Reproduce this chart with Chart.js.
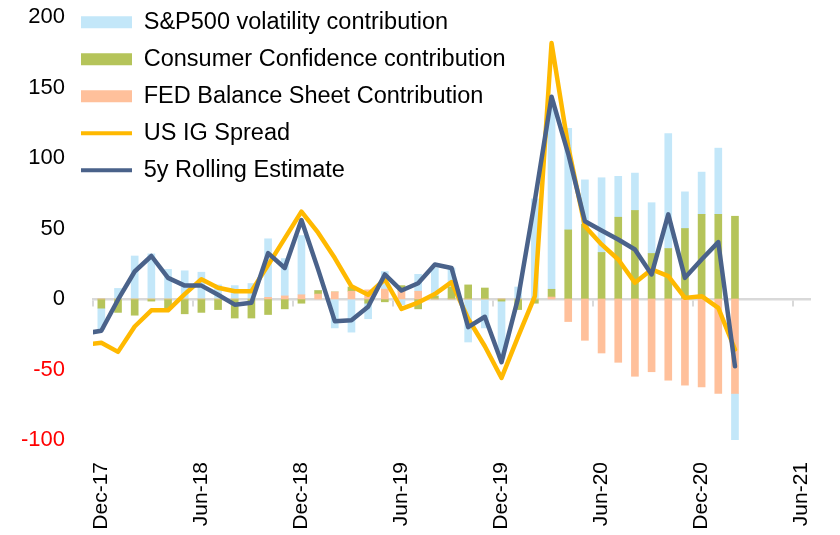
<!DOCTYPE html>
<html>
<head>
<meta charset="utf-8">
<script src="https://cdn.jsdelivr.net/npm/chart.js@4.4.1/dist/chart.umd.min.js"></script>
<style>
    html, body { margin: 0; padding: 0; background: #fff; }
</style>
</head>
<body>
<canvas id="chart" width="840" height="535"></canvas>
<script>
// ── data ─────────────────────────────────────────────────────────────────
// Monthly, Nov-17 .. Jun-21. Only the two lines carry a Nov-17 value (it
// just feeds the segment that enters from the left edge of the plot).

const MONTHS = [
    'Nov-17', 'Dec-17',
    'Jan-18', 'Feb-18', 'Mar-18', 'Apr-18', 'May-18', 'Jun-18',
    'Jul-18', 'Aug-18', 'Sep-18', 'Oct-18', 'Nov-18', 'Dec-18',
    'Jan-19', 'Feb-19', 'Mar-19', 'Apr-19', 'May-19', 'Jun-19',
    'Jul-19', 'Aug-19', 'Sep-19', 'Oct-19', 'Nov-19', 'Dec-19',
    'Jan-20', 'Feb-20', 'Mar-20', 'Apr-20', 'May-20', 'Jun-20',
    'Jul-20', 'Aug-20', 'Sep-20', 'Oct-20', 'Nov-20', 'Dec-20',
    'Jan-21', 'Feb-21', 'Mar-21', 'Apr-21', 'May-21', 'Jun-21'
];

const TICK_LABELS = ['Dec-17', 'Jun-18', 'Dec-18', 'Jun-19', 'Dec-19', 'Jun-20', 'Dec-20', 'Jun-21'];
const Y_TICKS = [-100, -50, 0, 50, 100, 150, 200];

const spVolatility = [null, -15, 7.5, 30.5, 32, 21, 20, 19, 10, 9.5, 11, 41.5, 26.5, 42,
    0, -20.5, -23.5, -11, 12.5, -4, 12, 20, 13.5, -30.5, -20.5, -40.5,
    8.5, 71, 133, 72, 31.5, 53, 29, 26.5, 36, 81.5, 26, 30, 47, -36];

const consumerConf = [null, -6.5, -9.5, -11.5, -1.5, -6.5, -10.5, -9.5, -7.5, -13.5, -13.5, -11, -7, -3,
    2.5, 0, 3, -3, -2, 4, -7, 2, 8.5, 10, 7.8, -1.5,
    -7.5, -3, 5.5, 49, 53, 33, 58, 62.8, 32.3, 35.8, 50, 60, 60, 58.7];

const fedBalance = [null, 0, 0, 0, 0, 0, 0, 0, 0, 0, 0, 1.2, 2.2, 3,
    3.5, 5, 5.5, 6.5, 7, 5.5, 5.5, 0, 0, 0, 0, 0,
    0, 0, 1.4, -16, -29.3, -38.3, -44.9, -54.8, -51.6, -57.6, -61.1, -62.3, -67, -67];

const igSpread = [-32.5, -31, -37.5, -19.5, -8, -8, 3.5, 14, 8, 5.5, 5.5, 24, 43, 62,
    47, 29, 9, 3, 14, -7, -2.5, 3.5, 12, -14, -33.5, -56,
    -26.5, 2, 181.5, 108, 51.6, 38.7, 28, 11.5, 21, 16.2, 0.8, 2, -6.3, -35.8];

const rolling5y = [-24.5, -22.5, -0.5, 19.5, 30.5, 15, 9.5, 9.5, 3, -4, -2.7, 32.5, 22, 56,
    21, -15.7, -15, -5.5, 17.4, 6, 11.2, 24.5, 22, -20, -12.6, -44.8,
    1, 70, 143.5, 103, 55.2, 48.6, 42.2, 35.1, 17.4, 60, 15, 28, 40.3, -47.7];

const FONT = '"Liberation Sans", Arial, sans-serif';

// month index -> {x, y}, dropping the gaps
function toPoints(values) {
    return values
        .map((v, i) => ({ x: i, y: v }))
        .filter(p => p.y !== null);
}

// the legend sits inside the plot, a bit left of it, like the original
const legendPlacer = {
    id: 'legendPlacer',
    afterLayout(chart) {
        const lg = chart.legend;
        lg.left = 67.5;
        lg.right = 640;
        lg.top = -3;
        lg.bottom = 300;
    }
};

// bars stack FED -> Consumer -> S&P outward from zero, legend lists them reversed
const LEGEND_ORDER = [2, 1, 0, 3, 4];

new Chart(document.getElementById('chart'), {
    data: {
        datasets: [
            {
                type: 'bar',
                label: 'FED Balance Sheet Contribution',
                data: toPoints(fedBalance),
                backgroundColor: '#ffc09b',
                stack: 'bars',
                barThickness: 7,
                order: 2
            },
            {
                type: 'bar',
                label: 'Consumer Confidence contribution',
                data: toPoints(consumerConf),
                backgroundColor: '#b5c45a',
                stack: 'bars',
                barThickness: 7,
                order: 2
            },
            {
                type: 'bar',
                label: 'S&P500 volatility contribution',
                data: toPoints(spVolatility),
                backgroundColor: '#c3e7f9',
                stack: 'bars',
                barThickness: 7,
                order: 2
            },
            {
                type: 'line',
                label: 'US IG Spread',
                data: toPoints(igSpread),
                borderColor: '#ffb900',
                borderWidth: 4.5,
                borderJoinStyle: 'round',
                borderCapStyle: 'round',
                pointRadius: 0,
                tension: 0,
                stack: 'ig',
                order: 1,
                clip: { left: 0, top: 20, right: 20, bottom: 20 }
            },
            {
                type: 'line',
                label: '5y Rolling Estimate',
                data: toPoints(rolling5y),
                borderColor: '#4a628a',
                borderWidth: 4.5,
                borderJoinStyle: 'round',
                borderCapStyle: 'round',
                pointRadius: 0,
                tension: 0,
                stack: 'roll',
                order: 0,
                clip: { left: 0, top: 20, right: 20, bottom: 20 }
            }
        ]
    },
    options: {
        responsive: false,
        animation: false,
        layout: { padding: { top: 17, right: 30, left: 0, bottom: 0 } },
        plugins: {
            tooltip: { enabled: false },
            legend: {
                position: 'chartArea',
                align: 'start',
                labels: {
                    usePointStyle: true,
                    pointStyleWidth: 51,
                    boxHeight: 12,
                    padding: 13.5,
                    color: '#000',
                    font: { family: FONT, size: 23.5 },
                    generateLabels: chart => LEGEND_ORDER.map(i => {
                        const ds = chart.data.datasets[i];
                        const isLine = ds.type === 'line';
                        return {
                            text: ds.label,
                            datasetIndex: i,
                            fillStyle: isLine ? ds.borderColor : ds.backgroundColor,
                            strokeStyle: isLine ? ds.borderColor : ds.backgroundColor,
                            lineWidth: isLine ? 4 : 0,
                            pointStyle: isLine ? 'line' : 'rect',
                            fontColor: '#000',
                            hidden: false
                        };
                    })
                }
            }
        },
        scales: {
            x: {
                type: 'linear',
                position: 'bottom',
                offset: false,
                min: 0.5,
                max: MONTHS.length - 0.5,
                afterBuildTicks: scale => {
                    scale.ticks = TICK_LABELS.map(l => ({ value: MONTHS.indexOf(l) }));
                },
                afterFit: scale => { scale.height = 95; },
                ticks: {
                    autoSkip: false,
                    minRotation: 90,
                    maxRotation: 90,
                    padding: 0,
                    color: '#000',
                    font: { family: FONT, size: 21 },
                    callback: v => MONTHS[v]
                },
                // tick marks are not drawn, their length only spaces the labels
                grid: { display: false, drawTicks: true, tickLength: 22 },
                border: { display: false }
            },
            // zero line with the half-yearly tick marks hanging off it
            xZero: {
                type: 'linear',
                position: { y: 0 },
                offset: false,
                min: 0.5,
                max: MONTHS.length - 0.5,
                z: 1,
                afterBuildTicks: scale => {
                    scale.ticks = TICK_LABELS.map(l => ({ value: MONTHS.indexOf(l) - 0.5 }));
                },
                ticks: { display: false },
                grid: {
                    display: true,
                    drawOnChartArea: false,
                    drawTicks: true,
                    tickLength: 6,
                    lineWidth: 2,
                    color: '#d9d9d9'
                },
                border: { display: true, color: '#d9d9d9', width: 2.5 }
            },
            y: {
                stacked: true,
                min: -100,
                max: 200,
                afterBuildTicks: scale => {
                    scale.ticks = Y_TICKS.map(v => ({ value: v }));
                },
                afterFit: scale => { scale.width = 93; },
                ticks: {
                    padding: 0,
                    font: { family: FONT, size: 22 },
                    color: ctx => ctx.tick.value < 0 ? '#ff0000' : '#000000'
                },
                grid: { display: false, drawTicks: true, tickLength: 28 },
                border: { display: false }
            }
        }
    },
    plugins: [legendPlacer]
});
</script>
</body>
</html>
